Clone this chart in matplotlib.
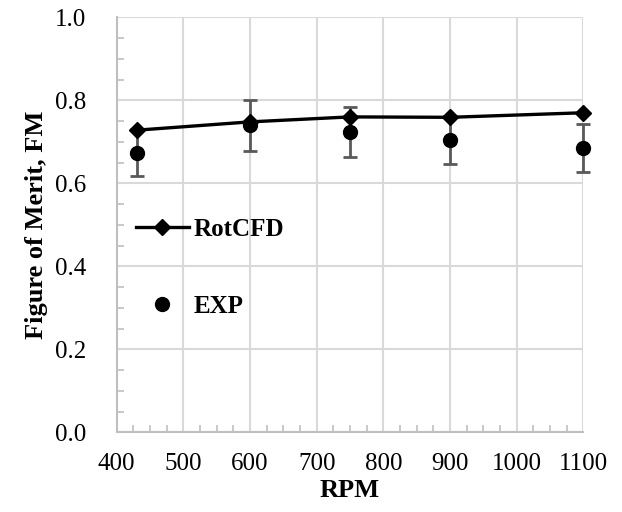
import numpy as np
import matplotlib.pyplot as plt
from matplotlib.ticker import MultipleLocator

# RotCFD prediction vs experiment
rpm = [430, 600, 750, 900, 1100]
fm_cfd = [0.728, 0.748, 0.760, 0.759, 0.770]
fm_exp = [0.674, 0.740, 0.723, 0.704, 0.685]
fm_err = [0.057, 0.061, 0.060, 0.057, 0.057]

plt.rcParams['font.family'] = ['Liberation Serif', 'DejaVu Serif']
plt.rcParams['font.size'] = 18

fig = plt.figure(figsize=(6.22, 5.12), dpi=100)
ax = fig.add_axes([0.1876, 0.1557, 0.7502, 0.8105])

ax.plot(rpm, fm_cfd, color='black', lw=2.4, marker='D', ms=8, label='RotCFD', zorder=3, clip_on=False)
eb = ax.errorbar(rpm, fm_exp, yerr=fm_err, fmt='none', ecolor='#595959',
                 elinewidth=2, capsize=5, capthick=2, zorder=2)
for art in eb.lines[1] + eb.lines[2]:
    art.set_clip_on(False)
ax.plot(rpm, fm_exp, 'o', color='black', ms=10, label='EXP', zorder=4, clip_on=False)

ax.set_xlim(400, 1100)
ax.set_ylim(0, 1.0)
ax.xaxis.set_major_locator(MultipleLocator(100))
ax.xaxis.set_minor_locator(MultipleLocator(25))
ax.yaxis.set_major_locator(MultipleLocator(0.2))
ax.yaxis.set_minor_locator(MultipleLocator(0.05))
ax.yaxis.set_major_formatter(plt.FormatStrFormatter('%.1f'))

ax.grid(True, which='major', color='#d9d9d9', lw=1.5)
ax.set_axisbelow(True)
for s in ['top', 'right']:
    ax.spines[s].set_visible(False)
for s in ['left', 'bottom']:
    ax.spines[s].set_color('#bfbfbf')
    ax.spines[s].set_linewidth(1.5)
ax.tick_params(which='both', direction='in', color='#bfbfbf', width=1.2)
ax.tick_params(which='major', length=0)
ax.tick_params(axis='x', which='major', pad=15)
ax.tick_params(axis='y', which='major', pad=22)
ax.tick_params(which='minor', length=5)

ax.set_xlabel('RPM', fontweight='bold', fontsize=19, labelpad=3)
ax.set_ylabel('Figure of Merit, FM', fontweight='bold', fontsize=19, labelpad=5)

ax.legend(loc='center left', bbox_to_anchor=(0.02, 0.396), frameon=False,
          handlelength=2.1, handletextpad=0.2, labelspacing=2.15, borderaxespad=0,
          prop={'weight': 'bold', 'size': 18})

fig.savefig('out.png', dpi=100)
